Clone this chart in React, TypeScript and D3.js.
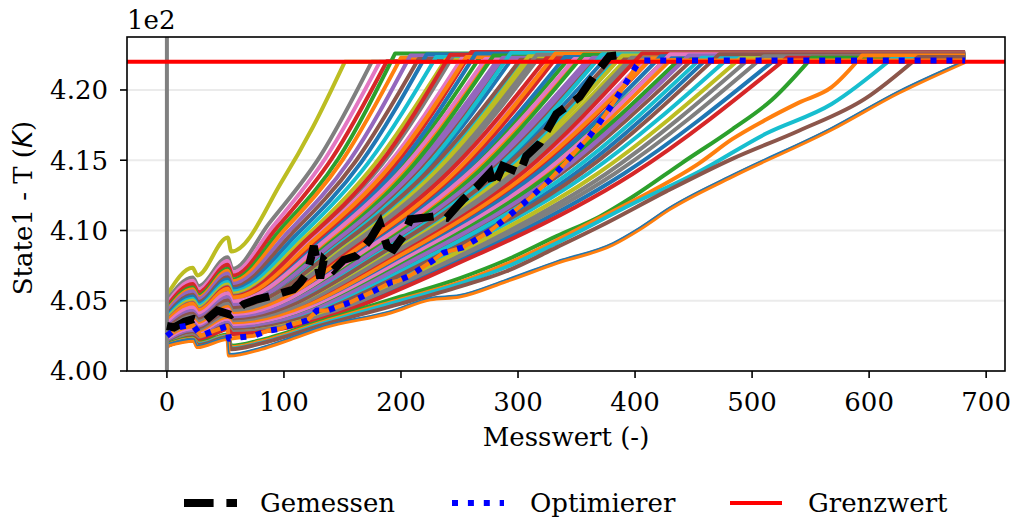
import React from 'react';
import * as d3 from 'd3';

const W = 1012;
const H = 520;
const PLOT = { left: 127, right: 1005, top: 37, bottom: 371 };

const xDomain: [number, number] = [-34.1, 716.1];
const yDomain: [number, number] = [400.0, 423.77];
const xTicks = [0, 100, 200, 300, 400, 500, 600, 700];
const yTicks = [400, 405, 410, 415, 420];
const yTickLabels = ['4.00', '4.05', '4.10', '4.15', '4.20'];
const offsetLabel = '1e2';
const xLabel = 'Messwert (-)';
const limitValue = 422;
const markerX = 0;

const tab10 = ['#1f77b4', '#ff7f0e', '#2ca02c', '#d62728', '#9467bd', '#8c564b', '#e377c2', '#7f7f7f', '#bcbd22', '#17becf'];

// key points [Messwert, T] of the fast runs (early hit)
const runs: number[][][] = [
  [[0, 405.4], [22, 407.35], [26, 406.8], [52, 409.5], [55, 408.5], [99, 413.6], [125, 417.4], [152, 422.0], [682, 422.0]],
  [[0, 405.0], [22, 406.66], [27, 406.04], [52, 408.1], [56, 407.27], [87, 410.47], [131, 415.29], [175, 422.0], [682, 422.0]],
  [[0, 404.8], [22, 406.42], [27, 405.81], [52, 407.82], [56, 407.01], [91, 410.34], [136, 415.21], [182, 422.0], [682, 422.05]],
  [[0, 404.6], [22, 406.19], [27, 405.6], [52, 407.56], [56, 406.77], [94, 410.2], [141, 415.13], [188, 422.05], [682, 422.05]],
  [[0, 404.4], [22, 405.94], [27, 405.37], [52, 407.28], [56, 406.51], [97, 410.07], [146, 415.05], [195, 422.6], [682, 422.6]],
  [[0, 404.3], [22, 405.82], [27, 405.24], [52, 407.13], [56, 406.37], [100, 410.0], [150, 415.01], [200, 422.3], [682, 422.3]],
  [[0, 404.2], [22, 405.67], [27, 405.12], [52, 406.94], [56, 406.2], [104, 409.93], [156, 414.97], [208, 422.45], [682, 422.45]],
  [[0, 404.0], [22, 405.43], [27, 404.9], [52, 406.67], [56, 405.96], [107, 409.8], [161, 414.89], [215, 422.2], [682, 422.2]],
  [[0, 403.9], [22, 405.3], [27, 404.77], [52, 406.51], [56, 405.81], [111, 409.73], [166, 414.85], [222, 422.55], [682, 422.55]],
  [[0, 403.8], [22, 405.15], [27, 404.65], [52, 406.33], [56, 405.66], [115, 409.66], [172, 414.81], [230, 422.35], [682, 422.35]],
  [[0, 403.7], [22, 405.01], [27, 404.52], [52, 406.15], [56, 405.5], [119, 409.59], [178, 414.77], [238, 422.15], [682, 422.15]],
  [[0, 403.6], [22, 404.88], [27, 404.4], [52, 406.0], [56, 405.36], [122, 409.52], [184, 414.73], [245, 422.5], [682, 422.5]],
  [[0, 403.5], [22, 404.76], [27, 404.28], [52, 405.85], [56, 405.22], [126, 409.46], [189, 414.69], [252, 422.25], [682, 422.25]],
  [[0, 403.4], [22, 404.63], [27, 404.17], [52, 405.69], [56, 405.07], [130, 409.39], [195, 414.65], [260, 422.7], [682, 422.7]],
  [[0, 403.3], [22, 404.49], [27, 404.05], [52, 405.53], [56, 404.93], [134, 409.32], [201, 414.61], [268, 422.4], [682, 422.4]],
  [[0, 403.2], [22, 404.37], [27, 403.93], [52, 405.38], [56, 404.8], [137, 409.25], [206, 414.57], [275, 422.3], [682, 422.3]],
  [[0, 403.1], [22, 404.24], [27, 403.81], [52, 405.24], [56, 404.67], [141, 409.19], [212, 414.53], [283, 422.2], [682, 422.2]],
  [[0, 403.0], [22, 404.12], [27, 403.71], [52, 405.09], [56, 404.53], [145, 409.12], [217, 414.5], [290, 422.45], [682, 422.45]],
  [[0, 402.95], [22, 404.04], [27, 403.64], [52, 404.99], [56, 404.45], [149, 409.08], [223, 414.47], [298, 422.6], [682, 422.6]],
  [[0, 402.9], [22, 403.97], [27, 403.57], [52, 404.9], [56, 404.36], [152, 409.05], [229, 414.46], [305, 422.25], [682, 422.25]],
  [[0, 402.8], [22, 403.85], [27, 403.46], [52, 404.76], [56, 404.24], [156, 408.98], [234, 414.42], [312, 422.35], [682, 422.35]],
  [[0, 402.7], [22, 403.73], [27, 403.34], [52, 404.62], [56, 404.11], [160, 408.91], [240, 414.38], [320, 422.55], [682, 422.55]],
  [[0, 402.65], [22, 403.65], [27, 403.29], [52, 404.53], [56, 404.03], [164, 408.88], [246, 414.36], [328, 422.15], [682, 422.15]],
  [[0, 402.6], [22, 403.59], [27, 403.22], [52, 404.45], [56, 403.95], [168, 408.85], [252, 414.34], [336, 422.65], [682, 422.65]],
  [[0, 402.55], [22, 403.52], [27, 403.16], [52, 404.36], [56, 403.87], [172, 408.81], [258, 414.32], [344, 422.3], [682, 422.3]],
  [[0, 402.5], [22, 403.45], [27, 403.09], [52, 404.27], [56, 403.79], [176, 408.78], [264, 414.3], [352, 422.45], [682, 422.45]],
  [[0, 402.45], [22, 403.38], [27, 403.03], [52, 404.18], [56, 403.71], [180, 408.75], [270, 414.28], [360, 422.2], [682, 422.2]],
  [[0, 402.4], [22, 403.31], [27, 402.97], [52, 404.1], [56, 403.65], [184, 408.71], [276, 414.26], [368, 422.5], [682, 422.5]],
  [[0, 402.35], [22, 403.25], [27, 402.9], [52, 404.02], [56, 403.57], [188, 408.68], [282, 414.24], [376, 422.35], [682, 422.35]],
  [[0, 402.3], [22, 403.18], [27, 402.85], [52, 403.94], [56, 403.49], [192, 408.64], [289, 414.22], [385, 422.4], [682, 422.4]],
  [[0, 402.25], [22, 403.11], [27, 402.79], [52, 403.85], [56, 403.43], [196, 408.61], [295, 414.2], [393, 422.25], [682, 422.25]],
  [[0, 402.2], [22, 403.04], [27, 402.73], [52, 403.77], [56, 403.35], [201, 408.58], [301, 414.18], [402, 422.55], [682, 422.55]],
  [[0, 402.15], [22, 402.98], [27, 402.67], [52, 403.7], [56, 403.29], [205, 408.54], [307, 414.16], [410, 422.3], [682, 422.3]],
  [[0, 402.1], [22, 402.91], [27, 402.61], [52, 403.62], [56, 403.21], [209, 408.51], [313, 414.14], [418, 422.6], [682, 422.6]],
  [[0, 402.05], [22, 402.85], [27, 402.55], [52, 403.55], [56, 403.15], [213, 408.47], [320, 414.12], [426, 422.2], [682, 422.2]],
  [[0, 402.0], [22, 402.79], [27, 402.49], [52, 403.47], [56, 403.07], [217, 408.44], [325, 414.1], [434, 422.45], [682, 422.45]],
  [[0, 401.95], [22, 402.73], [27, 402.43], [52, 403.4], [56, 403.01], [221, 408.41], [331, 414.08], [442, 422.35], [682, 422.35]],
  [[0, 401.9], [22, 402.66], [27, 402.38], [52, 403.33], [56, 402.95], [225, 408.37], [337, 414.06], [450, 422.25], [682, 422.25]],
  [[0, 401.9], [22, 402.64], [27, 402.37], [52, 403.28], [56, 402.91], [232, 408.37], [349, 414.06], [465, 422.5], [682, 422.5]],
  [[0, 401.85], [22, 402.57], [27, 402.3], [52, 403.19], [56, 402.83], [240, 408.34], [360, 414.04], [480, 422.3], [682, 422.3]],
  [[0, 401.8], [22, 402.49], [27, 402.23], [52, 403.09], [56, 402.74], [250, 408.3], [375, 414.02], [500, 422.4], [682, 422.4]],
  [[0, 401.8], [22, 402.47], [27, 402.21], [52, 403.04], [56, 402.71], [260, 408.3], [390, 414.02], [520, 422.2], [682, 422.2]],
];
const runColors = [8, 7, 6, 3, 2, 1, 4, 5, 0, 9, 8, 7, 6, 3, 2, 1, 4, 5, 0, 9, 8, 7, 6, 3, 2, 1, 4, 5, 0, 9, 8, 7, 6, 3, 2, 1, 4, 5, 0, 9, 7, 0];

// further runs inside the dense middle band
const middleRuns: number[][][] = [
  [[0, 403.5], [22, 404.81], [27, 404.32], [52, 405.94], [56, 405.28], [121, 409.46], [181.5, 414.69], [242, 422.5], [682, 422.5]],
  [[0, 403.55], [22, 404.78], [27, 404.32], [52, 405.85], [56, 405.23], [128, 409.49], [192, 414.71], [256, 422.35], [682, 422.35]],
  [[0, 403.2], [22, 404.41], [27, 403.96], [52, 405.47], [56, 404.86], [132, 409.25], [198, 414.57], [264, 422.6], [682, 422.6]],
  [[0, 403.35], [22, 404.52], [27, 404.08], [52, 405.54], [56, 404.95], [136, 409.36], [204, 414.63], [272, 422.2], [682, 422.2]],
  [[0, 403.0], [22, 404.16], [27, 403.73], [52, 405.17], [56, 404.59], [139.5, 409.12], [209, 414.5], [279, 422.45], [682, 422.45]],
  [[0, 403.15], [22, 404.27], [27, 403.86], [52, 405.25], [56, 404.69], [143.5, 409.22], [215, 414.55], [287, 422.3], [682, 422.3]],
  [[0, 402.85], [22, 403.96], [27, 403.55], [52, 404.93], [56, 404.38], [147, 409.02], [220.5, 414.44], [294, 422.65], [682, 422.65]],
  [[0, 403.0], [22, 404.07], [27, 403.67], [52, 405.01], [56, 404.47], [151, 409.12], [226.5, 414.5], [302, 422.15], [682, 422.15]],
  [[0, 402.75], [22, 403.82], [27, 403.42], [52, 404.74], [56, 404.21], [154.5, 408.95], [232, 414.4], [309, 422.4], [682, 422.4]],
  [[0, 402.85], [22, 403.89], [27, 403.5], [52, 404.79], [56, 404.27], [158, 409.02], [237, 414.44], [316, 422.5], [682, 422.5]],
  [[0, 402.6], [22, 403.62], [27, 403.24], [52, 404.51], [56, 403.99], [162, 408.85], [243, 414.34], [324, 422.25], [682, 422.25]],
  [[0, 402.7], [22, 403.7], [27, 403.33], [52, 404.56], [56, 404.06], [166, 408.91], [249, 414.38], [332, 422.6], [682, 422.6]],
  [[0, 402.45], [22, 403.43], [27, 403.07], [52, 404.28], [56, 403.79], [170, 408.75], [255, 414.28], [340, 422.35], [682, 422.35]],
  [[0, 402.6], [22, 403.55], [27, 403.2], [52, 404.38], [56, 403.91], [174, 408.85], [261, 414.34], [348, 422.2], [682, 422.2]],
  [[0, 402.4], [22, 403.35], [27, 402.99], [52, 404.16], [56, 403.69], [178, 408.71], [267, 414.26], [356, 422.5], [682, 422.5]],
  [[0, 402.5], [22, 403.42], [27, 403.07], [52, 404.22], [56, 403.75], [182, 408.78], [273, 414.3], [364, 422.3], [682, 422.3]],
  [[0, 402.3], [22, 403.2], [27, 402.86], [52, 403.99], [56, 403.54], [186, 408.64], [279, 414.22], [372, 422.55], [682, 422.55]],
  [[0, 402.4], [22, 403.28], [27, 402.96], [52, 404.05], [56, 403.6], [190, 408.71], [285, 414.26], [380, 422.2], [682, 422.2]],
  [[0, 402.2], [22, 403.07], [27, 402.75], [52, 403.83], [56, 403.39], [194.5, 408.58], [292, 414.18], [389, 422.45], [682, 422.45]],
  [[0, 402.3], [22, 403.15], [27, 402.83], [52, 403.89], [56, 403.46], [198.5, 408.64], [298, 414.22], [397, 422.3], [682, 422.3]],
  [[0, 402.1], [22, 402.94], [27, 402.63], [52, 403.67], [56, 403.25], [203, 408.51], [304.5, 414.14], [406, 422.6], [682, 422.6]],
  [[0, 402.2], [22, 403.01], [27, 402.71], [52, 403.72], [56, 403.32], [207, 408.58], [310.5, 414.18], [414, 422.25], [682, 422.25]],
  [[0, 402.0], [22, 402.81], [27, 402.51], [52, 403.51], [56, 403.11], [211, 408.44], [316.5, 414.1], [422, 422.4], [682, 422.4]],
  [[0, 402.1], [22, 402.89], [27, 402.59], [52, 403.57], [56, 403.18], [215, 408.51], [322.5, 414.14], [430, 422.55], [682, 422.55]],
  [[0, 401.95], [22, 402.73], [27, 402.44], [52, 403.41], [56, 403.02], [219, 408.41], [328.5, 414.08], [438, 422.2], [682, 422.2]],
  [[0, 402.0], [22, 402.76], [27, 402.49], [52, 403.43], [56, 403.05], [223, 408.44], [334.5, 414.1], [446, 422.45], [682, 422.45]],
  [[0, 401.85], [22, 402.61], [27, 402.32], [52, 403.26], [56, 402.88], [228.5, 408.34], [343, 414.04], [457, 422.3], [682, 422.3]],
  [[0, 401.9], [22, 402.63], [27, 402.36], [52, 403.27], [56, 402.9], [236, 408.37], [354, 414.06], [472, 422.55], [682, 422.55]],
  [[0, 401.8], [22, 402.51], [27, 402.24], [52, 403.12], [56, 402.77], [245, 408.3], [367.5, 414.02], [490, 422.25], [682, 422.25]],
  [[0, 401.85], [22, 402.52], [27, 402.27], [52, 403.11], [56, 402.78], [255, 408.34], [382.5, 414.04], [510, 422.4], [682, 422.4]],
  [[0, 401.75], [22, 402.41], [27, 402.15], [52, 402.98], [56, 402.64], [265, 408.27], [397.5, 414.0], [530, 422.3], [682, 422.3]],
];
const middleColors = [3, 1, 0, 6, 2, 4, 9, 5, 8, 7, 3, 1, 0, 6, 2, 4, 9, 5, 8, 7, 3, 1, 0, 6, 2, 4, 9, 5, 8, 7, 3];

// slow runs (late hit) in the lower right
const slowRuns: number[][][] = [
  [[0, 401.9], [22, 402.35], [27, 402.0], [52, 402.6], [55, 401.8], [80, 402.2], [134, 403.6], [200, 405.3], [250, 406.6], [290, 407.9], [333, 409.6], [370, 411.0], [398, 412.4], [440, 414.8], [483, 417.2], [517, 419.3], [551, 422.3], [682, 422.3]],
  [[0, 401.85], [22, 402.3], [27, 401.95], [52, 402.5], [55, 401.7], [80, 402.1], [134, 403.5], [200, 405.1], [250, 406.3], [290, 407.6], [333, 409.3], [370, 410.9], [412, 412.7], [455, 414.8], [483, 416.5], [512, 417.9], [540, 419.1], [568, 420.2], [594, 422.45], [682, 422.45]],
  [[0, 401.8], [22, 402.25], [27, 401.9], [52, 402.45], [55, 401.6], [80, 402.0], [134, 403.4], [200, 405.0], [250, 406.2], [290, 407.4], [333, 409.1], [398, 411.9], [455, 414.2], [512, 416.9], [568, 419.0], [619, 422.2], [682, 422.2]],
  [[0, 401.8], [22, 402.2], [27, 401.85], [52, 402.4], [55, 401.55], [80, 401.95], [134, 403.3], [200, 404.8], [250, 406.0], [290, 407.1], [333, 408.8], [370, 410.3], [427, 412.8], [483, 415.1], [540, 417.1], [597, 419.4], [642, 422.35], [682, 422.35]],
  [[0, 401.8], [23, 402.15], [26, 401.7], [51.7, 402.27], [53, 401.1], [80, 401.56], [105.6, 402.27], [134, 403.1], [191, 404.16], [225, 405.1], [250, 405.3], [290, 406.4], [333, 407.7], [381, 409.0], [404, 410.1], [429, 411.5], [483, 413.85], [568, 417.2], [625, 419.8], [682, 422.0], [682, 422.0]],
  [[0, 401.92], [23, 402.27], [26, 401.82], [51.7, 402.39], [53, 401.22], [80, 401.68], [105.6, 402.39], [134, 403.22], [191, 404.28], [225, 405.22], [250, 405.42], [290, 406.52], [333, 407.82], [381, 409.12], [404, 410.22], [429, 411.62], [483, 413.97], [568, 417.32], [625, 419.92], [682, 422.1], [682, 422.1]],
];
const slowColors = [2, 1, 9, 5, 1, 0];
const slowWidths = [4, 4, 4, 4, 4, 1.5];

// measured run ("Gemessen")
const gemessen: number[][] = [
  [0, 403.2], [6, 403.1], [15, 403.5], [23, 403.7], [31.6, 403.5], [43, 404.3], [54.5, 404.0], [65.6, 404.75], [77, 405.1],
  [94, 405.45], [108, 405.8], [114, 406.3], [120, 407.0], [125.5, 408.9], [131, 406.6], [134, 407.9], [142.5, 407.2],
  [151, 407.9], [162, 408.2], [174, 409.4], [182, 410.5], [188, 408.9], [193.6, 408.65], [202, 409.6], [208, 410.8],
  [219, 410.9], [228, 411.0], [239, 410.9], [253, 412.2], [264.7, 413.1], [276, 414.1], [279, 413.1], [287, 414.6],
  [301.5, 414.1], [307, 415.3], [318.6, 416.2], [332.8, 418.3], [352.6, 419.5], [366.8, 421.2], [378, 422.4], [384, 422.45],
];

// optimiser run ("Optimierer")
const optimierer: number[][] = [
  [0, 402.5], [9, 403.1], [22, 403.3], [29, 402.5], [40, 402.86], [51.7, 403.2], [53, 402.3], [63, 402.4], [74, 402.5],
  [86, 402.86], [97, 403.0], [108, 403.33], [120, 403.6], [128, 404.3], [137, 404.3], [157, 404.9], [177, 405.7],
  [191, 406.3], [197, 406.4], [208, 406.8], [228, 407.9], [236, 408.4], [253, 408.8], [265, 409.4], [276, 409.95],
  [293, 411.1], [310, 412.3], [327, 413.6], [338, 414.6], [361, 416.7], [375, 418.3], [387, 419.8], [401, 421.7],
  [405, 422.1], [682, 422.1],
];

const legendItems = ['Gemessen', 'Optimierer', 'Grenzwert'];

const FONT = "'DejaVu Serif', serif";
const FS = 26;

export default function App() {
  const x = d3.scaleLinear().domain(xDomain).range([PLOT.left, PLOT.right]);
  const y = d3.scaleLinear().domain(yDomain).range([PLOT.bottom, PLOT.top]);
  const smooth = d3.line<number[]>().x((d) => x(d[0])).y((d) => y(d[1])).curve(d3.curveMonotoneX);
  const straight = d3.line<number[]>().x((d) => x(d[0])).y((d) => y(d[1]));

  // rising part smoothed, plateau drawn straight
  const runPath = (r: number[][]) => {
    const rise = r.slice(0, -1);
    const last = r[r.length - 1];
    return (smooth(rise) || '') + `L${x(last[0])},${y(last[1])}`;
  };

  const legendY = 503;
  const legendBase = 512;

  return (
    <svg width={W} height={H} style={{ position: 'absolute', left: 0, top: 0, background: '#fff' }} fontFamily={FONT}>
      <defs>
        <clipPath id="plotclip">
          <rect x={PLOT.left} y={PLOT.top} width={PLOT.right - PLOT.left} height={PLOT.bottom - PLOT.top} />
        </clipPath>
      </defs>
      <rect x={0} y={0} width={W} height={H} fill="#fff" />
      {yTicks.map((t) => (
        <line key={'g' + t} x1={PLOT.left} x2={PLOT.right} y1={y(t)} y2={y(t)} stroke="#ebebeb" strokeWidth={2} />
      ))}
      <g clipPath="url(#plotclip)" fill="none" strokeLinejoin="round">
        {runs.map((r, i) => (
          <path key={'r' + i} d={runPath(r)} stroke={tab10[runColors[i]]} strokeWidth={4} />
        ))}
        {middleRuns.map((r, i) => (
          <path key={'m' + i} d={runPath(r)} stroke={tab10[middleColors[i]]} strokeWidth={4} />
        ))}
        {slowRuns.map((r, i) => (
          <path key={'s' + i} d={runPath(r)} stroke={tab10[slowColors[i]]} strokeWidth={slowWidths[i]} />
        ))}
        <path d={straight(optimierer) || ''} stroke={tab10[1]} strokeWidth={4} />
        <line x1={x(markerX)} x2={x(markerX)} y1={PLOT.top} y2={PLOT.bottom} stroke="#808080" strokeWidth={4} />
        <line x1={PLOT.left} x2={PLOT.right} y1={y(limitValue)} y2={y(limitValue)} stroke="#ff0000" strokeWidth={4} />
        <path d={straight(gemessen) || ''} stroke="#000" strokeWidth={8} strokeDasharray="29.6 12.8" strokeLinejoin="miter" />
        <path d={straight(optimierer) || ''} stroke="#0000ff" strokeWidth={6} strokeDasharray="6 9.9" />
      </g>
      <rect x={PLOT.left} y={PLOT.top} width={PLOT.right - PLOT.left} height={PLOT.bottom - PLOT.top} fill="none" stroke="#000" strokeWidth={1.6} />
      {xTicks.map((t) => (
        <g key={'x' + t}>
          <line x1={x(t)} x2={x(t)} y1={PLOT.bottom} y2={PLOT.bottom + 7} stroke="#000" strokeWidth={1.6} />
          <text x={x(t)} y={410.5} fontSize={FS} textAnchor="middle" fill="#000">{t}</text>
        </g>
      ))}
      <text x={(PLOT.left + PLOT.right) / 2} y={446} fontSize={FS} textAnchor="middle" fill="#000">{xLabel}</text>
      {yTicks.map((t, i) => (
        <g key={'y' + t}>
          <line x1={PLOT.left - 7} x2={PLOT.left} y1={y(t)} y2={y(t)} stroke="#000" strokeWidth={1.6} />
          <text x={PLOT.left - 19} y={y(t)} dy="0.36em" fontSize={FS} textAnchor="end" fill="#000">{yTickLabels[i]}</text>
        </g>
      ))}
      <text x={PLOT.left} y={29} fontSize={FS} fill="#000">{offsetLabel}</text>
      <text transform={`translate(32, 208) rotate(-90)`} fontSize={FS} textAnchor="middle" fill="#000">
        State1 - T (<tspan fontStyle="italic" fontFamily="'DejaVu Sans', sans-serif">K</tspan>)
      </text>
      <line x1={184} x2={237} y1={legendY} y2={legendY} stroke="#000" strokeWidth={8} strokeDasharray="29.6 12.8" />
      <text x={260} y={legendBase} fontSize={FS} fill="#000">{legendItems[0]}</text>
      <line x1={452} x2={504} y1={legendY} y2={legendY} stroke="#0000ff" strokeWidth={6} strokeDasharray="6 9.9" />
      <text x={530} y={legendBase} fontSize={FS} fill="#000">{legendItems[1]}</text>
      <line x1={730} x2={782} y1={legendY} y2={legendY} stroke="#ff0000" strokeWidth={4} />
      <text x={808} y={legendBase} fontSize={FS} fill="#000">{legendItems[2]}</text>
    </svg>
  );
}
